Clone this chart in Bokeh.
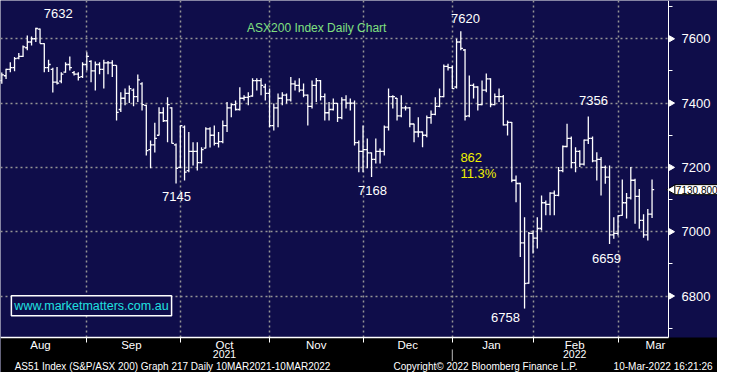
import math
from bokeh.plotting import figure
from bokeh.models import (ColumnDataSource, FixedTicker, LinearAxis, Label, Range1d, Grid,
                          BoxAnnotation)
from bokeh.core.properties import value
from bokeh.embed import file_html
from bokeh.resources import INLINE

# ---------------- data (daily OHLC, trading-day index) ----------------
opens = [7470, 7485, 7505, 7510, 7540, 7545, 7572, 7590, 7600, 7630,
         7585, 7510, 7505, 7465, 7468, 7496, 7520, 7495, 7490, 7482,
         7520, 7530, 7500, 7520, 7505, 7525, 7525, 7517, 7380, 7415,
         7430, 7440, 7420, 7460, 7393, 7255, 7270, 7300, 7370, 7345,
         7385, 7270, 7200, 7325, 7190, 7250, 7250, 7215, 7260, 7320,
         7300, 7275, 7280, 7330, 7385, 7395, 7380, 7415, 7418, 7422,
         7470, 7470, 7450, 7430, 7330, 7385, 7415, 7425, 7410, 7460,
         7455, 7440, 7425, 7390, 7455, 7470, 7420, 7370, 7380, 7399,
         7355, 7410, 7400, 7400, 7277, 7250, 7255, 7245, 7225, 7250,
         7250, 7325, 7420, 7415, 7360, 7385, 7385, 7335, 7310, 7310,
         7300, 7355, 7365, 7390, 7420, 7514, 7510, 7450, 7590, 7565,
         7360, 7455, 7450, 7395, 7440, 7475, 7395, 7420, 7420, 7332,
         7340, 7160, 7150, 6965, 6840, 6995, 6980, 7010, 7090, 7085,
         7120, 7113, 7190, 7265, 7290, 7215, 7250, 7210, 7285, 7290,
         7220, 7225, 7200, 7170, 6990, 6995, 7051, 7090, 7105, 7160,
         7110, 7035, 6990, 7055]
highs = [7495, 7507, 7527, 7543, 7556, 7579, 7610, 7607, 7634, 7632,
         7586, 7535, 7510, 7512, 7496, 7527, 7545, 7500, 7496, 7527,
         7558, 7533, 7529, 7527, 7535, 7531, 7533, 7518, 7434, 7445,
         7455, 7445, 7489, 7465, 7395, 7284, 7339, 7387, 7387, 7418,
         7387, 7274, 7330, 7330, 7310, 7278, 7278, 7263, 7325, 7325,
         7330, 7310, 7346, 7403, 7399, 7408, 7449, 7424, 7434, 7477,
         7477, 7477, 7460, 7445, 7399, 7430, 7434, 7430, 7481, 7470,
         7477, 7461, 7427, 7470, 7478, 7472, 7430, 7403, 7414, 7400,
         7418, 7424, 7414, 7408, 7284, 7330, 7290, 7246, 7290, 7259,
         7330, 7445, 7424, 7416, 7424, 7392, 7388, 7336, 7356, 7312,
         7361, 7377, 7418, 7445, 7520, 7522, 7517, 7600, 7623, 7568,
         7486, 7461, 7452, 7470, 7492, 7477, 7430, 7445, 7425, 7346,
         7341, 7175, 7152, 7045, 6999, 7004, 7045, 7113, 7097, 7123,
         7128, 7201, 7268, 7336, 7296, 7263, 7253, 7287, 7358, 7296,
         7247, 7232, 7206, 7206, 7045, 7051, 7162, 7120, 7201, 7165,
         7133, 7054, 7071, 7162]
lows = [7460, 7475, 7496, 7499, 7536, 7543, 7564, 7579, 7590, 7585,
        7496, 7497, 7433, 7458, 7462, 7494, 7501, 7486, 7470, 7478,
        7501, 7465, 7439, 7490, 7445, 7490, 7481, 7346, 7372, 7393,
        7400, 7390, 7403, 7377, 7237, 7197, 7246, 7299, 7341, 7278,
        7274, 7150, 7197, 7159, 7185, 7206, 7190, 7212, 7259, 7262,
        7268, 7262, 7275, 7310, 7356, 7377, 7377, 7408, 7393, 7420,
        7439, 7424, 7408, 7325, 7315, 7325, 7393, 7399, 7405, 7439,
        7434, 7418, 7330, 7383, 7403, 7408, 7346, 7346, 7377, 7341,
        7350, 7383, 7377, 7268, 7185, 7185, 7197, 7170, 7212, 7212,
        7237, 7315, 7383, 7346, 7356, 7377, 7325, 7278, 7294, 7263,
        7294, 7336, 7362, 7387, 7418, 7501, 7444, 7445, 7564, 7346,
        7356, 7414, 7377, 7393, 7434, 7387, 7393, 7403, 7330, 7299,
        7154, 7092, 6921, 6761, 6838, 6932, 6948, 7004, 7051, 7051,
        7051, 7110, 7185, 7263, 7197, 7185, 7201, 7206, 7273, 7216,
        7159, 7113, 7149, 6962, 6978, 6988, 7050, 7041, 7100, 7025,
        7009, 6981, 6973, 7043]
closes = [7488, 7505, 7510, 7538, 7545, 7575, 7590, 7600, 7632, 7585,
          7510, 7520, 7465, 7462, 7490, 7520, 7510, 7490, 7480, 7520,
          7545, 7500, 7520, 7505, 7525, 7525, 7517, 7371, 7415, 7430,
          7445, 7420, 7472, 7395, 7252, 7270, 7290, 7370, 7345, 7395,
          7275, 7197, 7330, 7185, 7250, 7250, 7215, 7255, 7320, 7300,
          7275, 7280, 7330, 7385, 7395, 7380, 7415, 7418, 7420, 7470,
          7470, 7455, 7430, 7330, 7385, 7415, 7425, 7410, 7460, 7455,
          7440, 7425, 7390, 7455, 7470, 7420, 7370, 7380, 7399, 7355,
          7410, 7400, 7400, 7277, 7250, 7255, 7245, 7225, 7250, 7250,
          7325, 7420, 7420, 7360, 7385, 7385, 7335, 7310, 7310, 7300,
          7355, 7365, 7390, 7420, 7514, 7510, 7445, 7590, 7570, 7359,
          7455, 7450, 7395, 7440, 7475, 7395, 7420, 7420, 7332, 7340,
          7160, 7150, 6965, 6839, 6995, 6980, 7010, 7090, 7085, 7120,
          7113, 7190, 7265, 7290, 7215, 7250, 7210, 7285, 7290, 7220,
          7225, 7200, 7170, 6990, 6995, 7050, 7090, 7105, 7160, 7110,
          7035, 6990, 7055, 7130.8]

month_names = ["Aug", "Sep", "Oct", "Nov", "Dec", "Jan", "Feb", "Mar"]
month_starts = [20, 42, 63, 85, 106, 125, 145]           # first trading day index
month_label_pos = [9.1, 30.5, 52.4, 74.0, 95.5, 115.2, 134.8, 153.8]
year_names = ["2021", "2022"]
year_label_pos = [52.4, 134.8]
year_sep = 106

y_ticks = [6800, 7000, 7200, 7400, 7600]
y_minor = [6700, 6900, 7100, 7300, 7500, 7700]
last_price = 7130.8

annot_text = ["7632", "7620", "7356", "7145", "7168", "6659", "6758"]
annot_x = [13.3, 109.1, 139.2, 41.1, 87.2, 142.3, 118.5]
annot_y = [7679, 7663, 7408, 7110, 7128, 6916, 6733]

move_text = ["862", "11.3%"]
move_x = [107.9, 107.9]
move_y = [7231, 7181]

footer_text = ["AS51 Index (S&P/ASX 200) Graph 217  Daily 10MAR2021-10MAR2022",
               "Copyright\u00a9 2022 Bloomberg Finance L.P.",
               "10-Mar-2022 16:21:26"]
footer_pos = [40.5, 113.8, 155.6]

# ---------------- layout constants ----------------
# the frame covers the whole canvas; the price panel ends at PANEL_BOTTOM and the
# caption rows below it are placed at fixed value positions
X_START, X_END = -0.306, 168.4
Y_START, Y_END = 6562.2, 7719
AXIS_X = 156.87
PANEL_BOTTOM = 6671
YEAR_ROW = 6631
FOOTER_ROW = 6597
SEP_TOP, SEP_BOTTOM = 6634, 6598
NAVY = "#0f0d4a"
GRID = "#959595"
SANS = "Liberation Sans"

idx = list(range(len(closes)))
src = ColumnDataSource(dict(
    x=idx,
    xl=[i - 0.5 for i in idx],
    xr=[i + 0.5 for i in idx],
    o=opens, h=highs, l=lows, c=closes,
))

p = figure(width=717, height=372, output_backend="svg", toolbar_location=None,
           x_range=Range1d(X_START, X_END), y_range=Range1d(Y_START, Y_END),
           x_axis_location=None, y_axis_location=None,
           min_border=0, min_border_left=0, min_border_top=0, min_border_right=0,
           min_border_bottom=0)
p.background_fill_color = NAVY
p.border_fill_color = "black"
p.outline_line_color = None

# drop any default grids, then add the dotted Bloomberg-style ones
p.center = [r for r in p.center if not isinstance(r, Grid)]
p.add_layout(Grid(dimension=0, ticker=FixedTicker(ticks=month_starts),
                  grid_line_color=GRID, grid_line_dash="2 3", grid_line_width=1.5))
p.add_layout(Grid(dimension=1, ticker=FixedTicker(ticks=y_ticks),
                  grid_line_color=GRID, grid_line_dash="2 3", grid_line_width=1.5))
# navy axis column and black caption strip
p.add_layout(BoxAnnotation(left=AXIS_X, fill_color=NAVY, fill_alpha=1.0,
                           line_color=None, level="underlay"))
p.add_layout(BoxAnnotation(top=PANEL_BOTTOM, fill_color="black", fill_alpha=1.0,
                           line_color=None, level="underlay"))

# OHLC bars
p.segment(x0="x", y0="l", x1="x", y1="h", source=src, line_color="white", line_width=1.3)
p.segment(x0="xl", y0="o", x1="x", y1="o", source=src, line_color="white", line_width=1.3)
p.segment(x0="x", y0="c", x1="xr", y1="c", source=src, line_color="white", line_width=1.3)

# right price axis
yax = LinearAxis(ticker=FixedTicker(ticks=y_ticks, minor_ticks=y_minor),
                 fixed_location=AXIS_X, bounds=(PANEL_BOTTOM, Y_END))
yax.axis_line_color = "white"
yax.major_tick_out = 0
yax.major_tick_in = 0
yax.minor_tick_line_color = "white"
yax.minor_tick_out = 4
yax.minor_tick_in = 0
yax.major_label_text_color = "white"
yax.major_label_text_font = SANS
yax.major_label_text_font_size = "13px"
yax.major_label_standoff = 9
p.add_layout(yax, "right")

# tick pointers on the price axis
p.scatter(x=[AXIS_X + 0.6] * len(y_ticks), y=y_ticks, marker="triangle",
          angle=-math.pi / 2, size=6, fill_color="white", line_color="white")

# last-price tag
p.scatter(x=[AXIS_X + 0.9], y=[last_price], marker="triangle", angle=math.pi / 2,
          size=10, fill_color="white", line_color="black", line_width=1)
p.add_layout(Label(x=AXIS_X + 1.5, y=last_price, text="7130.800", text_color="black",
                   text_font=SANS, text_font_size="10px", text_align="left",
                   text_baseline="middle", background_fill_color="white",
                   border_line_color="black", padding=1))

# month axis along the bottom of the price panel
xax = LinearAxis(ticker=FixedTicker(ticks=month_label_pos, minor_ticks=month_starts),
                 fixed_location=PANEL_BOTTOM, bounds=(X_START, AXIS_X))
xax.major_label_overrides = {pos: n for pos, n in zip(month_label_pos, month_names)}
xax.axis_line_color = "white"
xax.axis_line_width = 1.5
xax.major_tick_out = 0
xax.major_tick_in = 0
xax.minor_tick_line_color = "white"
xax.minor_tick_out = 5
xax.minor_tick_in = 0
xax.major_label_text_color = "white"
xax.major_label_text_font = SANS
xax.major_label_text_font_size = "11.5px"
xax.major_label_standoff = -4
p.add_layout(xax, "below")

# year row
yr = LinearAxis(ticker=FixedTicker(ticks=year_label_pos), fixed_location=YEAR_ROW)
yr.major_label_overrides = {pos: n for pos, n in zip(year_label_pos, year_names)}
yr.axis_line_color = None
yr.major_tick_out = 0
yr.major_tick_in = 0
yr.minor_tick_line_color = None
yr.major_label_text_color = "white"
yr.major_label_text_font = SANS
yr.major_label_text_font_size = "10.5px"
yr.major_label_standoff = 0
p.add_layout(yr, "below")

# separator between the two years
p.segment(x0=[year_sep], y0=[SEP_TOP], x1=[year_sep], y1=[SEP_BOTTOM],
          line_color="#bbbbbb", line_width=1)

# footer row
ft = LinearAxis(ticker=FixedTicker(ticks=footer_pos), fixed_location=FOOTER_ROW)
ft.major_label_overrides = {pos: t for pos, t in zip(footer_pos, footer_text)}
ft.axis_line_color = None
ft.major_tick_out = 0
ft.major_tick_in = 0
ft.minor_tick_line_color = None
ft.major_label_text_color = "white"
ft.major_label_text_font = SANS
ft.major_label_text_font_size = "10px"
ft.major_label_standoff = 0
p.add_layout(ft, "below")

# annotations in the plot
p.text(x=annot_x, y=annot_y, text=annot_text, text_color="white",
       text_font=value(SANS), text_font_size="13px", text_align="center",
       text_baseline="middle")
p.text(x=move_x, y=move_y, text=move_text, text_color="#f0f000",
       text_font=value(SANS), text_font_size="13px", text_align="left",
       text_baseline="middle")

p.add_layout(Label(x=74.1, y=7632, text="ASX200 Index Daily Chart", text_color="#80e080",
                   text_font=SANS, text_font_size="12px", text_align="center",
                   text_baseline="middle"))

p.add_layout(Label(x=21.1, y=6770, text="www.marketmatters.com.au", text_color="#20e0e0",
                   text_font=SANS, text_font_size="12.5px", text_align="center",
                   text_baseline="middle", background_fill_color=NAVY,
                   border_line_color="white", border_line_width=1.5, padding=3))

open("out.html", "w").write(file_html(p, INLINE))
